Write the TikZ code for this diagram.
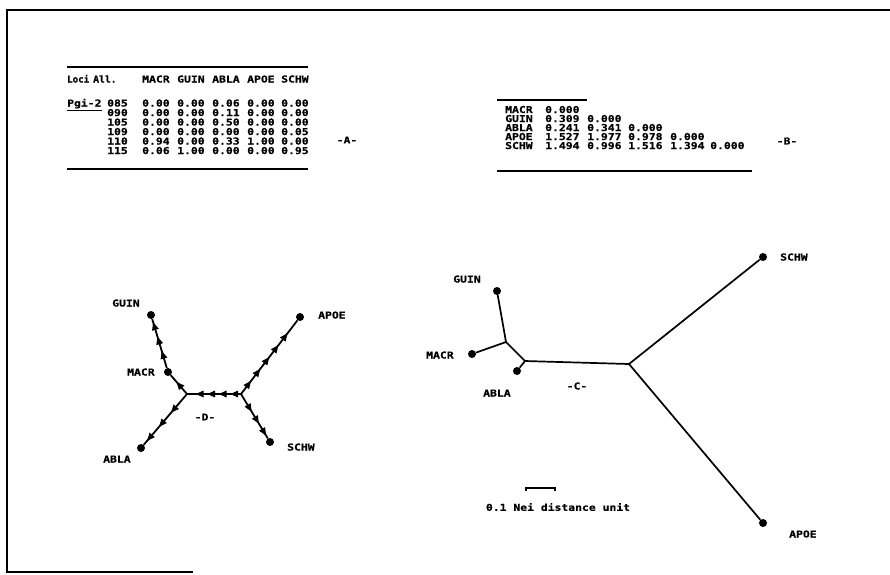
\documentclass[tikz,border=0pt]{standalone}
\usepackage{fontspec}
\usetikzlibrary{arrows.meta,decorations.markings}
\newfontfamily\pfont[FakeStretch=1.2,FakeBold=0.6]{DejaVu Sans Mono}
\begin{document}
\begin{tikzpicture}[x=1pt,y=-1pt,
  txt/.style={font=\pfont\bfseries\fontsize{9.5}{11}\selectfont, inner sep=0pt, anchor=base west},
  ctxt/.style={font=\pfont\bfseries\fontsize{9.5}{11}\selectfont, inner sep=0pt, anchor=center},
  dot/.style={circle, fill=black, inner sep=0pt, minimum size=8pt},
  cedge/.style={line width=1.7pt},
  dedge/.style={line width=1.8pt},
  rulel/.style={line width=2.2pt},
  frame/.style={line width=1.2pt},
  arrs/.style n args={3}{postaction={decorate}, decoration={markings,
     mark=between positions #1 and #2 step #3 with {\arrow{Triangle[length=8pt,width=6.5pt]}}}}
]
\useasboundingbox (0,0) rectangle (890,574);
\fill[white] (0,0) rectangle (890,574);

% frame
\draw[frame] (890,10) -- (7,10) -- (7,572) -- (193,572);

% ---------- Table A ----------
\draw[rulel] (67,67) -- (308,67);
\node[txt] (hLoci) at (67,82.5) {\scalebox{0.8}[1]{Loci}};
\node[txt] (hAll) at (93,82.5) {\scalebox{0.85}[1]{All.}};
\node[txt] (hMACR) at (142,82.5) {MACR};
\node[txt] (hGUIN) at (177,82.5) {GUIN};
\node[txt] (hABLA) at (212,82.5) {ABLA};
\node[txt] (hAPOE) at (247,82.5) {APOE};
\node[txt] (hSCHW) at (281,82.5) {SCHW};
\node[txt] (locus) at (67,106.5) {\underline{Pgi-2}};
\foreach \al/\yy/\va/\vb/\vc/\vd/\ve [count=\r] in {
   085/106.5/0.00/0.00/0.06/0.00/0.00,
   090/116/0.00/0.00/0.11/0.00/0.00,
   105/125.5/0.00/0.00/0.50/0.00/0.00,
   109/135/0.00/0.00/0.00/0.00/0.05,
   110/144.5/0.94/0.00/0.33/1.00/0.00,
   115/154/0.06/1.00/0.00/0.00/0.95}{
  \node[txt] (al\r) at (107,\yy) {\al};
  \node[txt] (a\r c1) at (142,\yy) {\va};
  \node[txt] (a\r c2) at (177,\yy) {\vb};
  \node[txt] (a\r c3) at (212,\yy) {\vc};
  \node[txt] (a\r c4) at (247,\yy) {\vd};
  \node[txt] (a\r c5) at (281,\yy) {\ve};
}
\draw[rulel] (67,169) -- (308,169);
\node[ctxt] (labA) at (347,140) {-A-};

% ---------- Table B ----------
\draw[rulel] (497,100) -- (587,100);
\node[txt] (bMACR) at (505,113) {MACR};
\node[txt] (b11) at (545,113) {0.000};
\node[txt] (bGUIN) at (505,122) {GUIN};
\node[txt] (b21) at (545,122) {0.309};
\node[txt] (b22) at (587,122) {0.000};
\node[txt] (bABLA) at (505,131) {ABLA};
\node[txt] (b31) at (545,131) {0.241};
\node[txt] (b32) at (587,131) {0.341};
\node[txt] (b33) at (628,131) {0.000};
\node[txt] (bAPOE) at (505,140) {APOE};
\node[txt] (b41) at (545,140) {1.527};
\node[txt] (b42) at (587,140) {1.977};
\node[txt] (b43) at (628,140) {0.978};
\node[txt] (b44) at (670,140) {0.000};
\node[txt] (bSCHW) at (505,149) {SCHW};
\node[txt] (b51) at (545,149) {1.494};
\node[txt] (b52) at (587,149) {0.996};
\node[txt] (b53) at (628,149) {1.516};
\node[txt] (b54) at (670,149) {1.394};
\node[txt] (b55) at (710,149) {0.000};
\draw[rulel] (497,171) -- (752,171);
\node[ctxt] (labB) at (787,141) {-B-};

% ---------- Tree D ----------
\node[dot] (dGUIN) at (151,315) {};
\node[dot] (dMACR) at (168,372) {};
\node[dot] (dAPOE) at (300,317) {};
\node[dot] (dSCHW) at (270,442) {};
\node[dot] (dABLA) at (141,448) {};
\coordinate (dLJ) at (187,394);
\coordinate (dRJ) at (241,394);
\draw[dedge, arrs={0.2}{0.88}{11.5pt}] (dRJ) -- (dLJ);
\draw[dedge, arrs={0.65}{0.7}{20pt}] (dLJ) -- (dMACR);
\draw[dedge, arrs={0.35}{0.97}{15pt}] (dMACR) -- (dGUIN);
\draw[dedge, arrs={0.37}{0.95}{18.5pt}] (dLJ) -- (dABLA);
\draw[dedge, arrs={0.18}{0.99}{15pt}] (dRJ) -- (dAPOE);
\draw[dedge, arrs={0.4}{0.99}{14pt}] (dRJ) -- (dSCHW);
\node[txt] (dlGUIN) at (112,306.5) {GUIN};
\node[txt] (dlMACR) at (127,375.5) {MACR};
\node[txt] (dlAPOE) at (318,318.5) {APOE};
\node[txt] (dlSCHW) at (287,450.5) {SCHW};
\node[txt] (dlABLA) at (103,462.5) {ABLA};
\node[ctxt] (labD) at (205,417) {-D-};

% ---------- Tree C ----------
\node[dot] (cGUIN) at (497,291) {};
\node[dot] (cMACR) at (472,354) {};
\node[dot] (cABLA) at (517,371) {};
\node[dot] (cSCHW) at (763,257) {};
\node[dot] (cAPOE) at (763,523) {};
\coordinate (cJ1) at (506,342);
\coordinate (cJ2) at (525,361);
\coordinate (cJ3) at (629,364);
\draw[cedge] (cGUIN) -- (cJ1);
\draw[cedge] (cMACR) -- (cJ1);
\draw[cedge] (cJ1) -- (cJ2);
\draw[cedge] (cABLA) -- (cJ2);
\draw[cedge] (cJ2) -- (cJ3);
\draw[cedge] (cJ3) -- (cSCHW);
\draw[cedge] (cJ3) -- (cAPOE);
\node[txt] (clGUIN) at (453,282.5) {GUIN};
\node[txt] (clMACR) at (426,358.5) {MACR};
\node[txt] (clABLA) at (483,396.5) {ABLA};
\node[txt] (clSCHW) at (780,260.5) {SCHW};
\node[txt] (clAPOE) at (789,537.5) {APOE};
\node[ctxt] (labC) at (577,386) {-C-};

% scale bar
\coordinate (sb1) at (526,488);
\coordinate (sb2) at (555,488);
\draw[line width=1.4pt] ([yshift=-3pt]sb1) -- (sb1) -- (sb2) -- ([yshift=-3pt]sb2);
\node[ctxt] (sbt) at (558,507) {0.1 Nei distance unit};
\end{tikzpicture}
\end{document}
